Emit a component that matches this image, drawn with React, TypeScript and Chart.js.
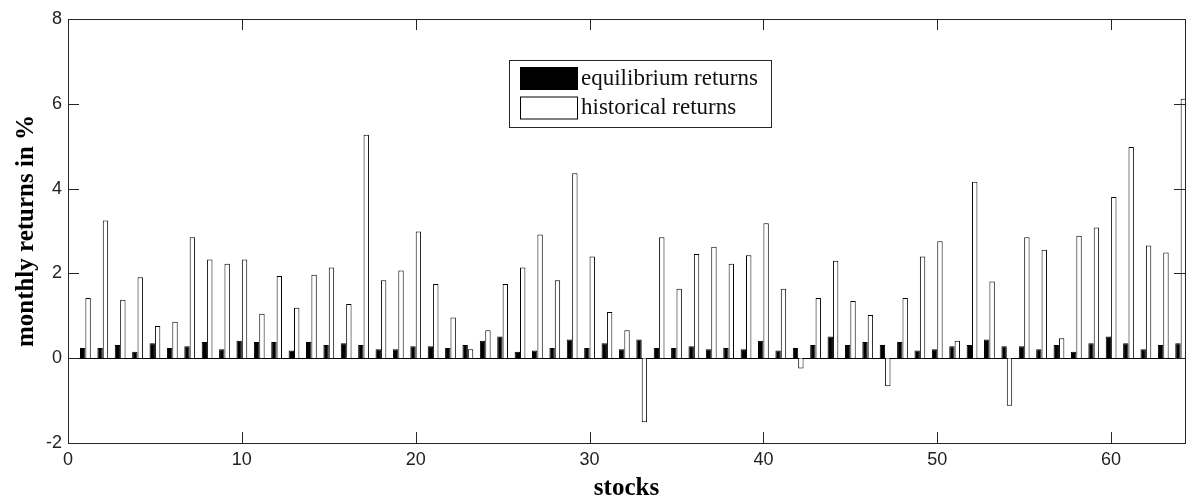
import React, { useEffect, useRef } from "react";
import { Chart, registerables } from "chart.js";

Chart.register(...registerables);

const stocks = [
  1, 2, 3, 4, 5, 6, 7, 8, 9, 10, 11, 12, 13, 14, 15, 16,
  17, 18, 19, 20, 21, 22, 23, 24, 25, 26, 27, 28, 29, 30, 31, 32,
  33, 34, 35, 36, 37, 38, 39, 40, 41, 42, 43, 44, 45, 46, 47, 48,
  49, 50, 51, 52, 53, 54, 55, 56, 57, 58, 59, 60, 61, 62, 63, 64,
];

const equilibriumReturns = [
  0.24, 0.24, 0.31, 0.15, 0.35, 0.24, 0.28, 0.38, 0.21, 0.41, 0.38, 0.38, 0.18, 0.38, 0.31, 0.35,
  0.31, 0.21, 0.21, 0.28, 0.28, 0.24, 0.31, 0.41, 0.51, 0.15, 0.18, 0.24, 0.44, 0.24, 0.35, 0.21,
  0.44, 0.24, 0.24, 0.28, 0.21, 0.24, 0.21, 0.41, 0.18, 0.24, 0.31, 0.51, 0.31, 0.38, 0.31, 0.38,
  0.18, 0.21, 0.28, 0.31, 0.44, 0.28, 0.28, 0.21, 0.31, 0.15, 0.35, 0.51, 0.35, 0.21, 0.31, 0.35,
];

const historicalReturns = [
  1.42, 3.25, 1.38, 1.91, 0.76, 0.86, 2.85, 2.33, 2.23, 2.33, 1.05, 1.94, 1.19, 1.97, 2.14, 1.28,
  5.27, 1.84, 2.07, 2.99, 1.75, 0.96, 0.21, 0.66, 1.75, 2.14, 2.92, 1.84, 4.36, 2.4, 1.09, 0.66,
  -1.51, 2.85, 1.64, 2.46, 2.63, 2.23, 2.43, 3.18, 1.64, -0.24, 1.42, 2.3, 1.35, 1.02, -0.66, 1.42,
  2.4, 2.76, 0.41, 4.16, 1.81, -1.12, 2.85, 2.56, 0.47, 2.89, 3.08, 3.8, 4.98, 2.66, 2.49, 6.12,
];

const seriesLabels = ["equilibrium returns", "historical returns"];
const xAxisTitle = "stocks";
const yAxisTitle = "monthly returns in %";
const xRange = [0, 64.25];
const yRange = [-2, 8];
const xTickValues = [0, 10, 20, 30, 40, 50, 60];
const yTickValues = [-2, 0, 2, 4, 6, 8];

const AXIS_COLOR = "#262626";
const TICK_LEN = 11;

const framePlugin = {
  id: "matlabFrame",
  beforeDatasetsDraw(chart: any) {
    const { ctx, chartArea, scales } = chart;
    const y0 = Math.round(scales.y.getPixelForValue(0));
    ctx.save();
    ctx.fillStyle = "#000";
    ctx.fillRect(Math.round(chartArea.left), y0, Math.round(chartArea.right - chartArea.left), 1);
    ctx.restore();
  },
  afterDraw(chart: any) {
    const { ctx, chartArea, scales } = chart;
    const l = Math.round(chartArea.left);
    const r = Math.round(chartArea.right);
    const t = Math.round(chartArea.top);
    const b = Math.round(chartArea.bottom);
    ctx.save();
    ctx.fillStyle = AXIS_COLOR;
    // frame
    ctx.fillRect(l, t, r - l + 1, 1);
    ctx.fillRect(l, b, r - l + 1, 1);
    ctx.fillRect(l, t, 1, b - t + 1);
    ctx.fillRect(r, t, 1, b - t + 1);
    // inward ticks
    for (const v of xTickValues) {
      const px = Math.round(scales.x.getPixelForValue(v));
      ctx.fillRect(px, b - TICK_LEN, 1, TICK_LEN);
      ctx.fillRect(px, t, 1, TICK_LEN);
    }
    for (const v of yTickValues) {
      const py = Math.round(scales.y.getPixelForValue(v));
      ctx.fillRect(l, py, TICK_LEN, 1);
      ctx.fillRect(r - TICK_LEN, py, TICK_LEN, 1);
    }

    // legend
    const boxX = 509.5, boxY = 60.5, boxW = 262, boxH = 67;
    ctx.fillStyle = "#fff";
    ctx.fillRect(boxX, boxY, boxW, boxH);
    ctx.strokeStyle = AXIS_COLOR;
    ctx.lineWidth = 1;
    ctx.strokeRect(boxX, boxY, boxW, boxH);
    ctx.font = "23px 'Liberation Serif', 'Times New Roman', serif";
    ctx.textBaseline = "middle";
    ctx.textAlign = "left";
    chart.data.datasets.forEach((ds: any, i: number) => {
      const sy = 67.5 + i * 29.5;
      const sx = 520.5;
      ctx.fillStyle = ds.backgroundColor;
      ctx.fillRect(sx, sy, 57, 22);
      ctx.strokeStyle = "#000";
      ctx.strokeRect(sx, sy, 57, 22);
      ctx.fillStyle = "#111";
      ctx.fillText(ds.label, 581, sy + 11);
    });
    ctx.restore();
  },
};

export default function App() {
  const canvasRef = useRef<HTMLCanvasElement | null>(null);

  useEffect(() => {
    if (!canvasRef.current) return;
    const chart = new Chart(canvasRef.current, {
      type: "bar",
      data: {
        datasets: [
          {
            label: seriesLabels[0],
            data: stocks.map((s, i) => ({ x: s, y: equilibriumReturns[i] })),
            backgroundColor: "#000000",
            borderColor: "#000000",
            borderWidth: 1,
            categoryPercentage: 0.62,
            barPercentage: 1.0,
          },
          {
            label: seriesLabels[1],
            data: stocks.map((s, i) => ({ x: s, y: historicalReturns[i] })),
            backgroundColor: "#ffffff",
            borderColor: "#000000",
            borderWidth: 1,
            categoryPercentage: 0.62,
            barPercentage: 1.0,
          },
        ] as any,
      },
      options: {
        animation: false,
        responsive: false,
        layout: { padding: { top: 19, right: 11, left: 0, bottom: 0 } },
        plugins: {
          legend: { display: false },
          tooltip: { enabled: false },
        },
        scales: {
          x: {
            type: "linear",
            min: xRange[0],
            max: xRange[1],
            offset: false,
            grid: { display: false, drawTicks: false, offset: false },
            border: { display: false },
            ticks: {
              stepSize: 10,
              includeBounds: false,
              padding: 6,
              color: "#222",
              maxRotation: 0,
              font: { family: "'Liberation Sans', Arial, sans-serif", size: 18 },
            },
            title: {
              display: true,
              text: xAxisTitle,
              color: "#000",
              font: { family: "'Liberation Serif', 'Times New Roman', serif", size: 25, weight: "bold", lineHeight: 0.75 },
              padding: { top: 0, bottom: -1 },
            },
            afterFit(scale: any) {
              scale.height = 54;
            },
          } as any,
          y: {
            type: "linear",
            min: yRange[0],
            max: yRange[1],
            grid: { display: false, drawTicks: false },
            border: { display: false },
            ticks: {
              stepSize: 2,
              padding: 6,
              color: "#222",
              font: { family: "'Liberation Sans', Arial, sans-serif", size: 18 },
            },
            title: {
              display: true,
              text: yAxisTitle,
              color: "#000",
              font: { family: "'Liberation Serif', 'Times New Roman', serif", size: 25, weight: "bold", lineHeight: 1.2 },
              padding: { top: 12, bottom: 0 },
            },
            afterFit(scale: any) {
              scale.width = 68;
            },
          } as any,
        },
      },
      plugins: [framePlugin],
    });
    return () => chart.destroy();
  }, []);

  return (
    <canvas
      ref={canvasRef}
      width={1196}
      height={497}
      style={{ position: "fixed", left: 0, top: 0, width: 1196, height: 497, background: "#fff" }}
    />
  );
}
